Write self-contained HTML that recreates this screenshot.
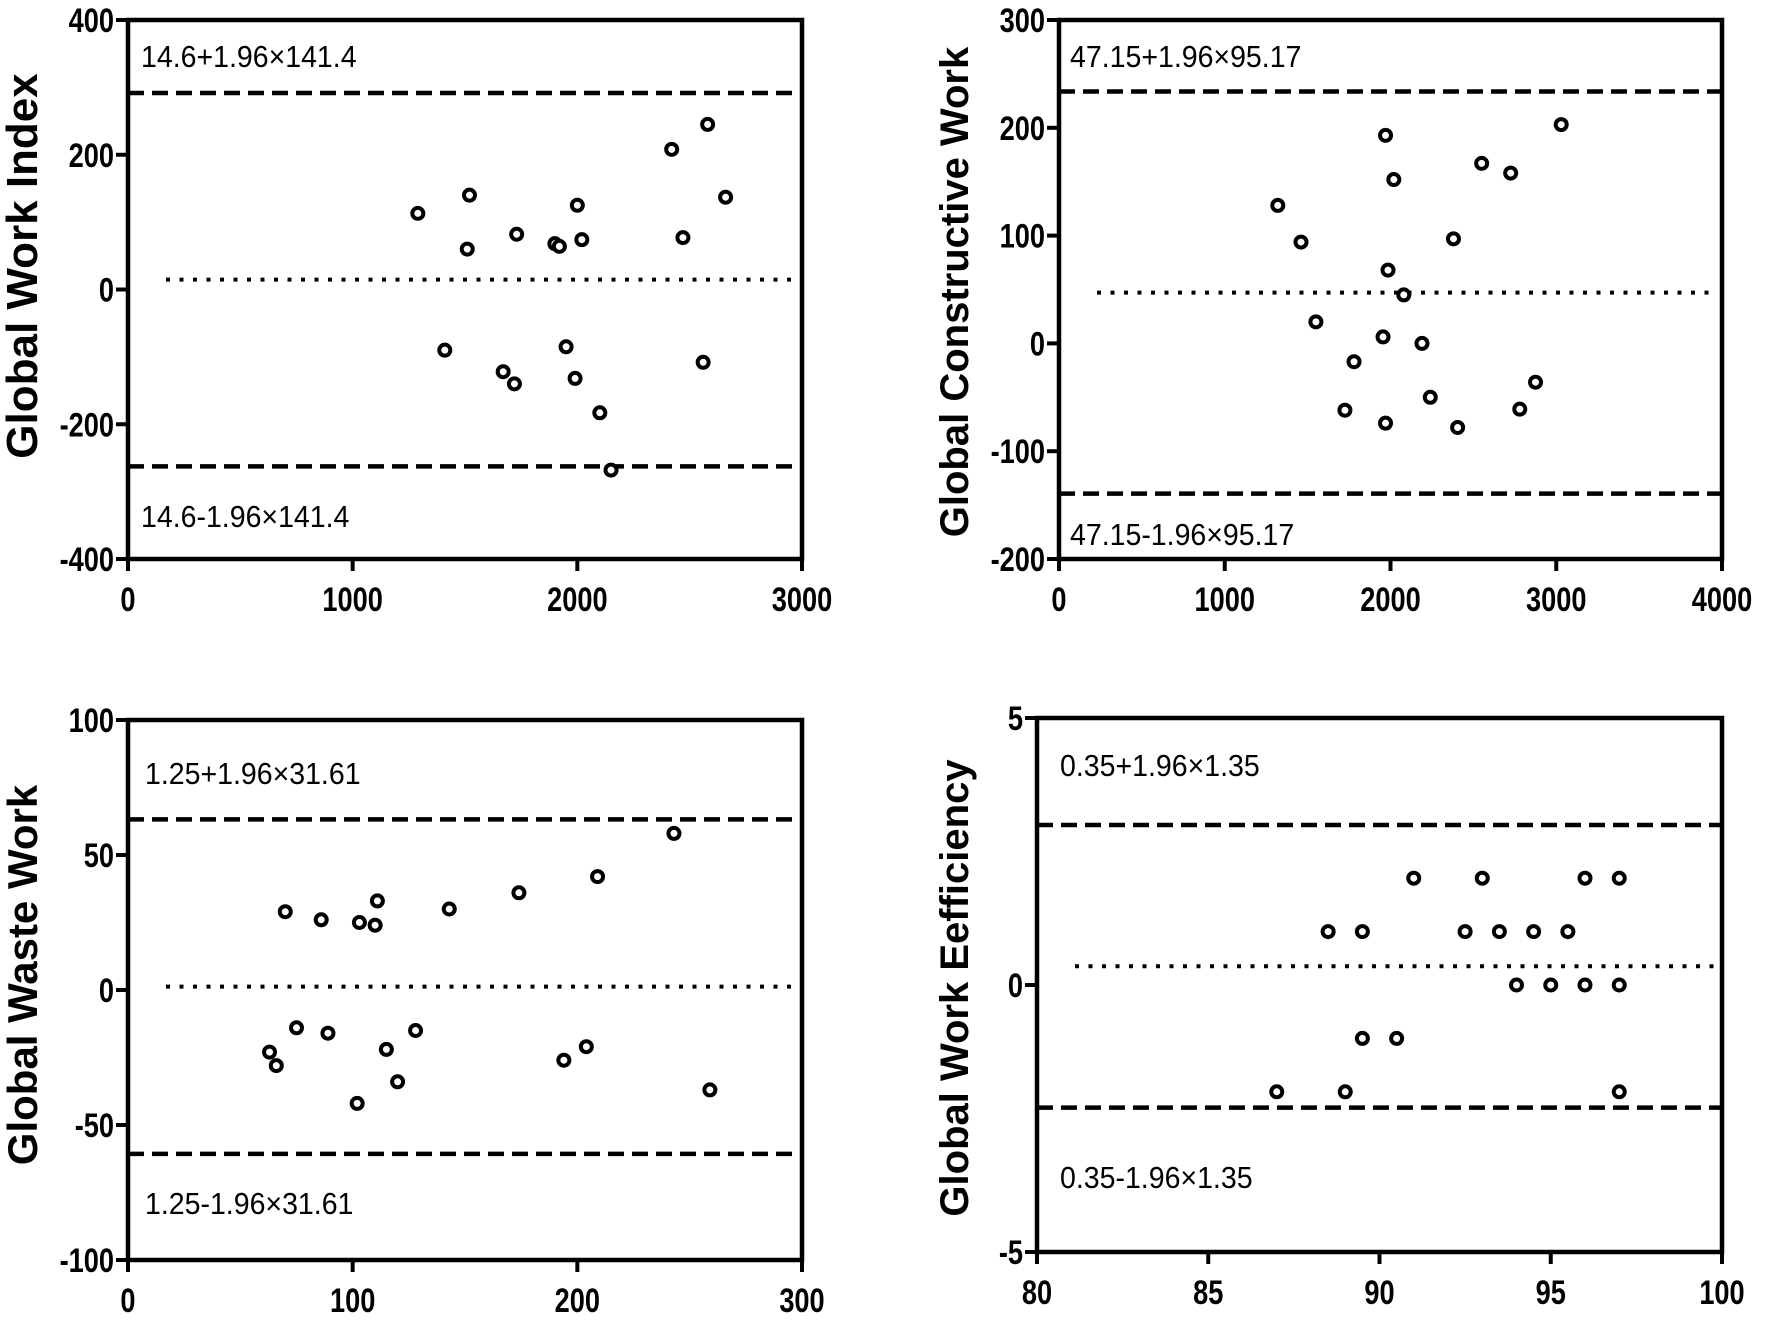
<!DOCTYPE html>
<html><head><meta charset="utf-8"><style>
body{margin:0;background:#fff}
svg{display:block}
text{font-family:"Liberation Sans",Arial,sans-serif;fill:#000}
</style></head><body>
<svg id="c" width="1772" height="1320" viewBox="0 0 1772 1320"></svg>
<script>
// Panel A: Global Work Index
const gwiX=[1290,1520,1510,1410,1730,1670,1720,1900,1920,2000,2020,1950,1990,2100,2150,2420,2470,2580,2560,2660];
const gwiY=[113,140,60,-90,82,-122,-140,68,64,125,74,-85,-132,-183,-268,208,77,245,-108,137];
const gwiXTicks=[0,1000,2000,3000];
const gwiYTicks=[-400,-200,0,200,400];
const gwiStats=[14.6,291.7,-262.5];
// Panel B: Global Constructive Work
const gcwX=[1320,1460,1550,1780,1725,1970,2020,1985,2080,1955,1970,2190,2240,2380,2405,2550,2725,2780,2875,3030];
const gcwY=[128,94,20,-17,-62,193,152,68,45,6,-74,0,-50,97,-78,167,158,-61,-36,203];
const gcwXTicks=[0,1000,2000,3000,4000];
const gcwYTicks=[-200,-100,0,100,200,300];
const gcwStats=[47.15,233.7,-139.4];
// Panel C: Global Waste Work
const gwwX=[63,66,70,75,86,89,102,103,111,110,115,120,128,143,174,194,204,209,243,259];
const gwwY=[-23,-28,29,-14,26,-16,-42,25,33,24,-22,-34,-15,30,36,-26,-21,42,58,-37];
const gwwXTicks=[0,100,200,300];
const gwwYTicks=[-100,-50,0,50,100];
const gwwStats=[1.25,63.2,-60.7];
// Panel D: Global Work Efficiency
const gweX=[87,89,97,89.5,90.5,88.5,89.5,92.5,93.5,94.5,95.5,91,93,96,97,94,95,96,97];
const gweY=[-2,-2,-2,-1,-1,1,1,1,1,1,1,2,2,2,2,0,0,0,0];
const gweXTicks=[80,85,90,95,100];
const gweYTicks=[-5,0,5];
const gweStats=[0.35,2.996,-2.296];

const NS="http://www.w3.org/2000/svg";
const svg=document.getElementById('c');
function mk(tag,attrs,parent,txt){const e=document.createElementNS(NS,tag);for(const k in attrs)e.setAttribute(k,attrs[k]);if(txt!==undefined)e.textContent=txt;(parent||svg).appendChild(e);return e;}

function panel(id,box,xd,yd,xs,ys,xt,yt,stats,title,upLbl,loLbl,upPos,loPos,titlePos){
  const g=mk('g',{});
  
  
  const [L,T,R,B]=box;
  const sx=v=>L+(v-xd[0])/(xd[1]-xd[0])*(R-L);
  const sy=v=>B-(v-yd[0])/(yd[1]-yd[0])*(B-T);
  const fr=mk('rect',{x:L,y:T,width:R-L,height:B-T,fill:'none',stroke:'#000','stroke-width':4.5},g);
  
  
  xt.forEach(v=>{
    const x=sx(v);
    mk('line',{x1:x,y1:B,x2:x,y2:B+12,stroke:'#000','stroke-width':4},g);
    const t=mk('text',{x:0,y:0,'text-anchor':'middle','font-size':34,'font-weight':'bold',transform:'translate('+x+','+(B+52)+') scale(0.8,1)'},g,String(v));
    
    
  });
  yt.forEach(v=>{
    const y=sy(v);
    mk('line',{x1:L-12,y1:y,x2:L,y2:y,stroke:'#000','stroke-width':4},g);
    const t=mk('text',{x:0,y:0,'text-anchor':'end','font-size':34,'font-weight':'bold',transform:'translate('+(L-14)+','+(y+12)+') scale(0.8,1)'},g,String(v));
    
    
  });
  const m=mk('line',{x1:L+38,y1:sy(stats[0]),x2:R-4,y2:sy(stats[0]),stroke:'#000','stroke-width':4,'stroke-dasharray':'4 9.5'},g);
  
  
  [1,2].forEach(i=>{
    const d=mk('line',{x1:L,y1:sy(stats[i]),x2:R,y2:sy(stats[i]),stroke:'#000','stroke-width':4.5,'stroke-dasharray':'16 8'},g);
    
    
  });
  xs.forEach((v,i)=>{
    const c=mk('circle',{cx:sx(v),cy:sy(ys[i]),r:5.5,fill:'#fff',stroke:'#000','stroke-width':4},g);
    
    
  });
  const u=mk('text',{x:0,y:0,'font-size':31,transform:'translate('+upPos[0]+','+upPos[1]+') scale(0.92,1)'},g,upLbl);
  
  
  const lo=mk('text',{x:0,y:0,'font-size':31,transform:'translate('+loPos[0]+','+loPos[1]+') scale(0.92,1)'},g,loLbl);
  
  
  const tt=mk('text',{x:titlePos[0],y:titlePos[1],'text-anchor':'middle','font-size':titlePos[2],'font-weight':'bold',transform:'rotate(-90 '+titlePos[0]+' '+titlePos[1]+')'},g,title);
  
  
}

panel('gwi',[128,20,802,559],[0,3000],[-400,400],gwiX,gwiY,gwiXTicks,gwiYTicks,gwiStats,'Global Work Index','14.6+1.96×141.4','14.6-1.96×141.4',[141,67],[141,527],[37,266,44]);
panel('gcw',[1059,20,1722,559],[0,4000],[-200,300],gcwX,gcwY,gcwXTicks,gcwYTicks,gcwStats,'Global Constructive Work','47.15+1.96×95.17','47.15-1.96×95.17',[1070,67],[1070,545],[968,292,40]);
panel('gww',[128,720,802,1260],[0,300],[-100,100],gwwX,gwwY,gwwXTicks,gwwYTicks,gwwStats,'Global Waste Work','1.25+1.96×31.61','1.25-1.96×31.61',[145,784],[145,1214],[37,975,42]);
panel('gwe',[1037,718,1722,1252],[80,100],[-5,5],gweX,gweY,gweXTicks,gweYTicks,gweStats,'Global Work Eefficiency','0.35+1.96×1.35','0.35-1.96×1.35',[1060,776],[1060,1188],[968,988,40]);
</script>
</body></html>
